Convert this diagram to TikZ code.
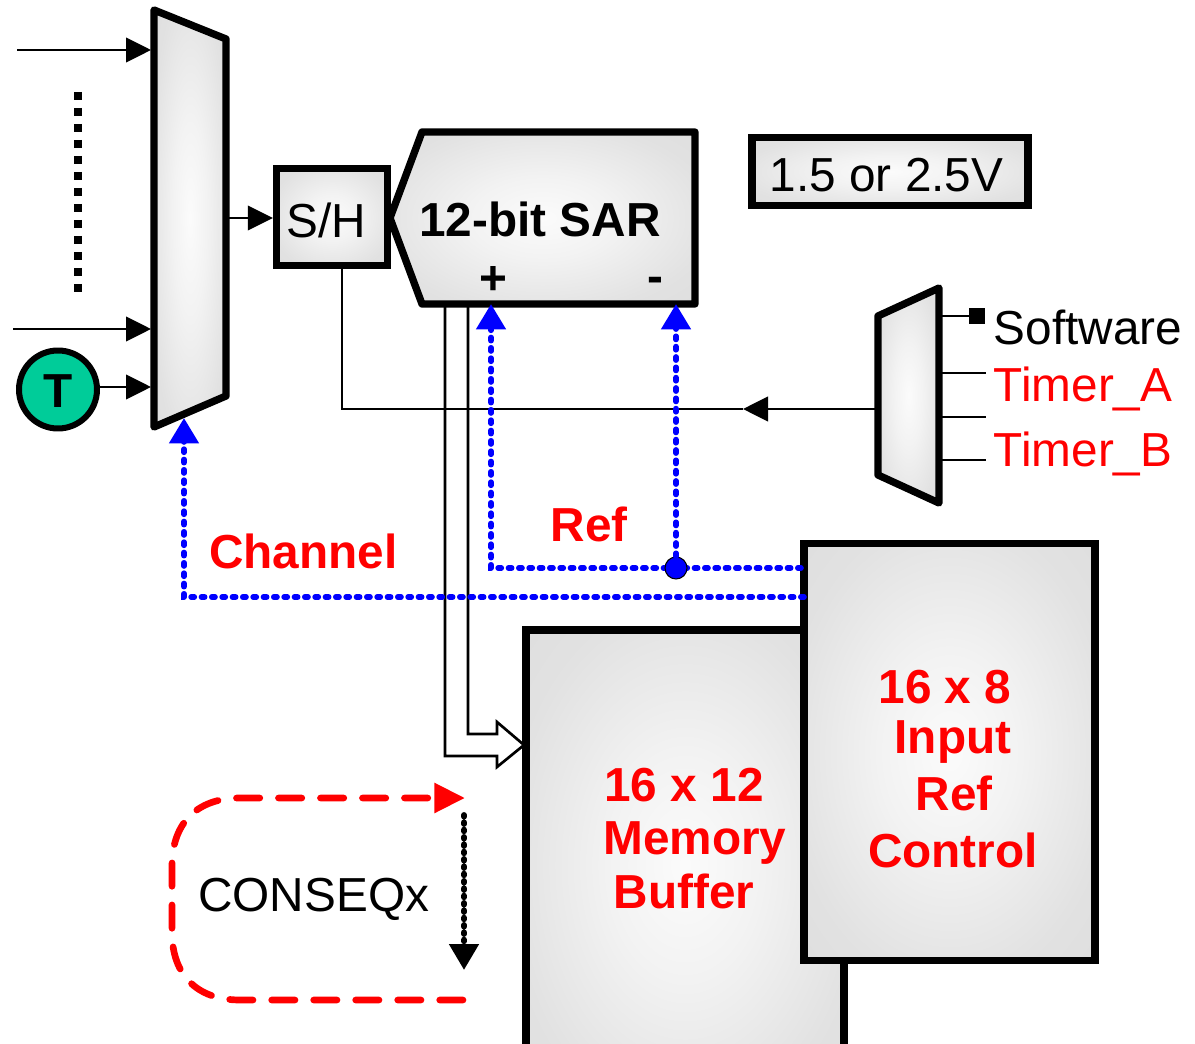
\documentclass[tikz,border=0pt]{standalone}
\usepackage{fontspec}
\setmainfont{Liberation Sans}
\usetikzlibrary{arrows.meta}
\pgfdeclareradialshading{softgray}{\pgfpoint{0bp}{0bp}}{rgb(0bp)=(.985,.985,.985);rgb(12bp)=(.95,.95,.95);rgb(28bp)=(.885,.885,.885);rgb(50bp)=(.85,.85,.85);rgb(100bp)=(.845,.845,.845)}
\definecolor{tealT}{HTML}{00CC99}
\tikzset{
  heavy/.style={draw=black,line width=5.5pt,line join=round,shade,shading=softgray},
  boxnode/.style={heavy,line join=miter,rectangle,inner sep=0pt},
  thin line/.style={draw=black,line width=1.4pt},
  headK/.style={-{Triangle[length=18.75pt,width=18.5pt,color=black]}},
  headB/.style={-{Triangle[length=19pt,width=21.5pt,color=blue]}},
  blueline/.style={draw=blue,line width=4.2pt,line cap=round,dash pattern=on 2.4pt off 5.35pt},
  lab/.style={anchor=base,inner sep=0pt,font=\fontsize{35.8}{40}\selectfont},
  labl/.style={lab,anchor=base west},
}
\begin{document}
\begin{tikzpicture}[x=0.75pt,y=-0.75pt]
\useasboundingbox (0,0) rectangle (1195,1044);
% named connection points
\coordinate (in1s) at (17,50);    \coordinate (in1e) at (151,50);
\coordinate (in2s) at (13,329);   \coordinate (in2e) at (151,329);
\coordinate (in3e) at (151,387);
\coordinate (muxout) at (229,218);
\coordinate (dotsT) at (78,92);   \coordinate (dotsB) at (78,292);
\coordinate (muxsel) at (184,418);
\coordinate (sarplus) at (491,304);
\coordinate (sarminus) at (676,304);
\coordinate (chE) at (804,597);   \coordinate (chC) at (184,597);
\coordinate (refE) at (801,568);  \coordinate (refC) at (491,568);
\coordinate (rmL) at (877,409);   \coordinate (shTip) at (743,409);
\coordinate (shC) at (342,409);
\coordinate (rmS) at (941,316);   \coordinate (rmA) at (941,373);
\coordinate (rmM) at (941,417);   \coordinate (rmB) at (941,460);
\coordinate (eA) at (986,373);    \coordinate (eM) at (986,417);  \coordinate (eB) at (986,460);
% left mux
\draw[heavy] (154,10) -- (226,39) -- (226,396) -- (154,427) -- cycle;
% S/H
\node[boxnode,minimum width=111*0.75pt,minimum height=97*0.75pt] (sh) at (332,217) {};
% SAR
\draw[heavy] (422,132) -- (695,132) -- (695,304) -- (422,304) -- (390,218) -- cycle;
% reference box
\node[boxnode,minimum width=276*0.75pt,minimum height=68*0.75pt] (vref) at (890,171.5) {};
% right mux
\draw[heavy] (878,316) -- (939,288) -- (939,503) -- (878,475) -- cycle;
% memory and control blocks
\begin{scope}
\clip (0,0) rectangle (1195,1044);
\node[boxnode,minimum width=318*0.75pt,minimum height=470*0.75pt] (mem) at (685,865) {};
\end{scope}
\node[boxnode,minimum width=291*0.75pt,minimum height=417*0.75pt] (ctl) at (949.5,752) {};
% T
\node[heavy,circle,shade=false,draw=black,fill=tealT,line width=4.5pt,minimum size=78*0.75pt,inner sep=0pt] (T) at (58,389.5) {};
% input connectors
\draw[thin line,headK] (in1s) -- (in1e);
\draw[thin line,headK] (in2s) -- (in2e);
\draw[thin line,headK] (T.east |- in3e) -- (in3e);
\draw[thin line,headK] (muxout) -- (sh.west |- muxout);
\draw[draw=black,line width=6pt,dash pattern=on 6pt off 6pt] (dotsT) -- (dotsB);
% convert trigger line
\draw[thin line,headK] (rmL) -- (shTip);
\draw[thin line] (shTip) -- (shC) -- (shC |- sh.south);
% trigger inputs
\draw[thin line] (rmS) -- (970,316);
\node[fill=black,minimum size=12pt,inner sep=0pt] (swsq) at (977,316.5) {};
\draw[thin line] (rmA) -- (eA);
\draw[thin line] (rmM) -- (eM);
\draw[thin line] (rmB) -- (eB);
% data bus hollow arrow
\draw[draw=black,line width=2pt,line join=miter] (445,307) -- (445,756) -- (497,756) -- (497,767) -- (524,745) -- (497,722) -- (497,734) -- (468,734) -- (468,307);
% blue control lines
\draw[blueline,headB] (chE) -- (chC) -- (muxsel);
\draw[blueline,headB] (refE) -- (refC) -- (sarplus);
\node[circle,fill=blue,draw=black,line width=.8pt,minimum size=16.5pt,inner sep=0pt] (junc) at (676,568) {};
\draw[blueline,headB] (junc) -- (sarminus);
% CONSEQx loop
\coordinate (lpS) at (463,1000);
\coordinate (lpE) at (465,798);
\draw[draw=red,line width=5pt,line cap=round,dash pattern=on 17.5pt off 14pt,-{Triangle[length=23pt,width=21.5pt,color=red]}]
  (lpS) -- (240,1000) .. controls (197,1000) and (172,975) .. (172,932) -- (172,866) .. controls (172,823) and (197,798) .. (240,798) -- (lpE);
\coordinate (dS) at (464,815);
\coordinate (dE) at (464,970);
\draw[draw=black,line width=4.4pt,line cap=round,dash pattern=on 1.2pt off 4.3pt,-{Triangle[length=19.5pt,width=21.5pt,color=black]}] (dS) -- (dE);
% texts
\node[lab] (tT) at (58,408) {\bfseries T};
\node[lab] (tsh) at (326,238) {S/H};
\node[lab] (tsar) at (540,236.5) {\bfseries 12-bit SAR};
\node[lab] (tplus) at (493,295) {\bfseries +};
\node[lab] (tminus) at (655,293) {\bfseries -};
\node[lab] (tref) at (886.5,191.5) {1.5 or 2.5V};
\node[labl] (tsw) at (993.5,345) {Software};
\node[labl,text=red] (tta) at (993.5,402) {Timer\_A};
\node[labl,text=red] (ttb) at (993.5,466) {Timer\_B};
\node[lab,text=red] (tch) at (303.5,568) {\bfseries Channel};
\node[lab,text=red] (trf) at (589,541.5) {\bfseries Ref};
\node[lab,text=red] (m1) at (684,801) {\bfseries 16 x 12};
\node[lab,text=red] (m2) at (695,854.5) {\bfseries Memory};
\node[lab,text=red] (m3) at (684,908.5) {\bfseries Buffer};
\node[lab,text=red] (c1) at (945,703) {\bfseries 16 x 8};
\node[lab,text=red] (c2) at (953,753) {\bfseries Input};
\node[lab,text=red] (c3) at (954,810) {\bfseries Ref};
\node[lab,text=red] (c4) at (953,867) {\bfseries Control};
\node[labl] (tcq) at (198,911) {CONSEQx};
\end{tikzpicture}
\end{document}
